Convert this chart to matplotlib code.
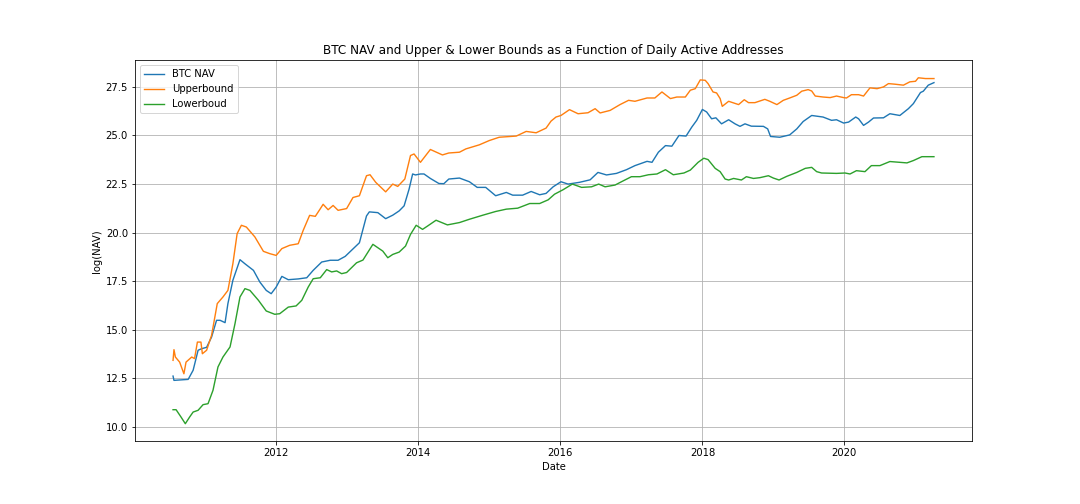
import numpy as np
import pandas as pd
import matplotlib
matplotlib.use("Agg")
import matplotlib.pyplot as plt

# ---- data (decimal years, log NAV values) ----
nav_years = [2010.547, 2010.56, 2010.76, 2010.83, 2010.90, 2010.95, 2011.02, 2011.09, 2011.16, 2011.21,
             2011.28, 2011.32, 2011.39, 2011.49, 2011.56, 2011.68, 2011.77, 2011.86, 2011.93, 2012.0,
             2012.08, 2012.17, 2012.31, 2012.43, 2012.52, 2012.64, 2012.76, 2012.87, 2012.97, 2013.17,
             2013.27, 2013.31, 2013.43, 2013.54, 2013.64, 2013.73, 2013.80, 2013.87, 2013.92, 2013.96,
             2014.03, 2014.08, 2014.17, 2014.29, 2014.36, 2014.43, 2014.58, 2014.72, 2014.83, 2014.95,
             2015.09, 2015.24, 2015.33, 2015.47, 2015.59, 2015.71, 2015.80, 2015.90, 2016.01, 2016.11,
             2016.27, 2016.42, 2016.53, 2016.65, 2016.79, 2016.93, 2017.05, 2017.22, 2017.29, 2017.38,
             2017.48, 2017.57, 2017.67, 2017.77, 2017.85, 2017.92, 2018.0, 2018.06, 2018.13, 2018.19,
             2018.27, 2018.37, 2018.46, 2018.53, 2018.60, 2018.69, 2018.86, 2018.92, 2018.96, 2019.09,
             2019.23, 2019.33, 2019.42, 2019.54, 2019.70, 2019.82, 2019.89, 2019.99, 2020.06, 2020.16,
             2020.20, 2020.27, 2020.34, 2020.41, 2020.55, 2020.64, 2020.78, 2020.90, 2020.97, 2021.07,
             2021.11, 2021.18, 2021.26]
nav_values = [12.62, 12.40, 12.45, 12.92, 13.95, 14.03, 14.10, 14.63, 15.49, 15.49,
              15.37, 16.35, 17.55, 18.61, 18.40, 18.06, 17.46, 17.03, 16.86, 17.20,
              17.75, 17.58, 17.62, 17.68, 18.06, 18.49, 18.58, 18.58, 18.78, 19.48,
              20.86, 21.07, 21.03, 20.72, 20.90, 21.12, 21.38, 22.24, 23.02, 22.97,
              23.02, 23.02, 22.79, 22.53, 22.52, 22.76, 22.81, 22.62, 22.33, 22.33,
              21.90, 22.07, 21.93, 21.93, 22.12, 21.95, 22.02, 22.36, 22.62, 22.50,
              22.59, 22.72, 23.10, 22.97, 23.05, 23.24, 23.45, 23.67, 23.62, 24.14,
              24.48, 24.45, 25.00, 24.97, 25.43, 25.78, 26.34, 26.21, 25.86, 25.91,
              25.60, 25.81, 25.60, 25.47, 25.60, 25.48, 25.47, 25.34, 24.95, 24.91,
              25.03, 25.34, 25.72, 26.03, 25.95, 25.78, 25.81, 25.64, 25.69, 25.95,
              25.86, 25.52, 25.69, 25.90, 25.91, 26.12, 26.03, 26.38, 26.64, 27.21,
              27.28, 27.59, 27.72]

upper_years = [2010.547, 2010.56, 2010.58, 2010.64, 2010.70, 2010.73, 2010.81, 2010.85, 2010.89, 2010.94,
               2010.96, 2011.02, 2011.09, 2011.17, 2011.25, 2011.32, 2011.39, 2011.45, 2011.51, 2011.58,
               2011.70, 2011.82, 2011.91, 2012.0, 2012.08, 2012.19, 2012.31, 2012.38, 2012.47, 2012.55,
               2012.62, 2012.66, 2012.73, 2012.80, 2012.87, 2012.99, 2013.08, 2013.17, 2013.27, 2013.32,
               2013.40, 2013.54, 2013.64, 2013.71, 2013.81, 2013.89, 2013.94, 2014.03, 2014.17, 2014.34,
               2014.43, 2014.58, 2014.67, 2014.86, 2015.0, 2015.14, 2015.38, 2015.52, 2015.66, 2015.80,
               2015.87, 2015.94, 2016.01, 2016.13, 2016.25, 2016.39, 2016.49, 2016.56, 2016.70, 2016.84,
               2016.96, 2017.05, 2017.22, 2017.33, 2017.43, 2017.55, 2017.64, 2017.76, 2017.83, 2017.90,
               2017.97, 2018.04, 2018.08, 2018.15, 2018.20, 2018.25, 2018.28, 2018.37, 2018.51, 2018.59,
               2018.65, 2018.74, 2018.88, 2018.95, 2019.05, 2019.14, 2019.23, 2019.33, 2019.40, 2019.49,
               2019.54, 2019.59, 2019.70, 2019.80, 2019.89, 2019.99, 2020.03, 2020.10, 2020.20, 2020.27,
               2020.36, 2020.46, 2020.55, 2020.62, 2020.71, 2020.83, 2020.92, 2021.0, 2021.04, 2021.14,
               2021.26]
upper_values = [13.43, 13.98, 13.60, 13.34, 12.74, 13.34, 13.60, 13.52, 14.37, 14.37,
                13.77, 13.95, 14.72, 16.35, 16.69, 17.03, 18.40, 19.95, 20.38, 20.29,
                19.78, 19.04, 18.92, 18.83, 19.18, 19.35, 19.43, 20.12, 20.89, 20.84,
                21.23, 21.46, 21.18, 21.40, 21.15, 21.24, 21.81, 21.90, 22.93, 22.98,
                22.59, 22.10, 22.50, 22.38, 22.76, 23.97, 24.05, 23.62, 24.28, 24.00,
                24.10, 24.14, 24.31, 24.52, 24.74, 24.91, 24.97, 25.21, 25.14, 25.38,
                25.74, 25.95, 26.03, 26.33, 26.12, 26.17, 26.38, 26.16, 26.29, 26.59,
                26.81, 26.76, 26.93, 26.93, 27.24, 26.90, 26.98, 26.98, 27.33, 27.41,
                27.86, 27.84, 27.67, 27.24, 27.19, 26.90, 26.50, 26.76, 26.59, 26.84,
                26.69, 26.69, 26.86, 26.76, 26.59, 26.81, 26.93, 27.07, 27.28, 27.36,
                27.29, 27.03, 26.98, 26.95, 27.03, 26.95, 26.93, 27.10, 27.10, 27.03,
                27.45, 27.41, 27.50, 27.67, 27.64, 27.59, 27.76, 27.79, 27.97, 27.93,
                27.93]

lower_years = [2010.547, 2010.59, 2010.66, 2010.72, 2010.78, 2010.83, 2010.90, 2010.97, 2011.04, 2011.11,
               2011.18, 2011.25, 2011.35, 2011.42, 2011.49, 2011.56, 2011.63, 2011.75, 2011.86, 2011.98,
               2012.05, 2012.17, 2012.28, 2012.36, 2012.45, 2012.52, 2012.62, 2012.71, 2012.78, 2012.85,
               2012.92, 2012.99, 2013.13, 2013.22, 2013.36, 2013.50, 2013.57, 2013.64, 2013.73, 2013.82,
               2013.89, 2013.97, 2014.06, 2014.13, 2014.25, 2014.41, 2014.58, 2014.72, 2014.91, 2015.09,
               2015.24, 2015.40, 2015.57, 2015.71, 2015.83, 2015.92, 2016.04, 2016.17, 2016.30, 2016.44,
               2016.54, 2016.63, 2016.77, 2016.86, 2017.0, 2017.12, 2017.24, 2017.36, 2017.48, 2017.59,
               2017.74, 2017.83, 2017.94, 2018.02, 2018.08, 2018.18, 2018.25, 2018.32, 2018.37, 2018.44,
               2018.55, 2018.62, 2018.72, 2018.81, 2018.93, 2019.0, 2019.08, 2019.19, 2019.33, 2019.45,
               2019.54, 2019.61, 2019.68, 2019.89, 2020.01, 2020.08, 2020.17, 2020.29, 2020.38, 2020.50,
               2020.64, 2020.88, 2020.97, 2021.09, 2021.26]
lower_values = [10.89, 10.89, 10.51, 10.17, 10.51, 10.77, 10.86, 11.15, 11.20, 11.89,
                13.09, 13.60, 14.12, 15.32, 16.69, 17.12, 17.03, 16.52, 15.97, 15.80,
                15.83, 16.17, 16.23, 16.52, 17.20, 17.63, 17.68, 18.10, 17.98, 18.03,
                17.89, 17.95, 18.45, 18.59, 19.40, 19.05, 18.71, 18.88, 19.00, 19.31,
                19.91, 20.38, 20.17, 20.34, 20.64, 20.40, 20.52, 20.69, 20.90, 21.09,
                21.21, 21.26, 21.50, 21.50, 21.69, 21.98, 22.21, 22.50, 22.33, 22.36,
                22.50, 22.36, 22.45, 22.62, 22.88, 22.88, 22.98, 23.02, 23.24, 22.98,
                23.07, 23.22, 23.62, 23.83, 23.76, 23.31, 23.14, 22.76, 22.71, 22.79,
                22.71, 22.88, 22.79, 22.83, 22.93, 22.81, 22.71, 22.90, 23.10, 23.31,
                23.36, 23.14, 23.07, 23.05, 23.07, 23.02, 23.19, 23.14, 23.45, 23.45,
                23.66, 23.59, 23.71, 23.91, 23.91]

series_labels = ["BTC NAV", "Upperbound", "Lowerboud"]


def to_dates(years):
    out = []
    for y in years:
        yi = int(np.floor(y))
        start = pd.Timestamp(year=yi, month=1, day=1)
        end = pd.Timestamp(year=yi + 1, month=1, day=1)
        out.append(start + (end - start) * (y - yi))
    return pd.to_datetime(out)


fig = plt.figure(figsize=(15, 7), dpi=72)
ax = fig.add_subplot(111)
fig.subplots_adjust(left=0.125, right=0.9, top=0.88, bottom=0.125)

ax.plot(to_dates(nav_years), nav_values, color="#1f77b4", lw=1.4, label=series_labels[0])
ax.plot(to_dates(upper_years), upper_values, color="#ff7f0e", lw=1.4, label=series_labels[1])
ax.plot(to_dates(lower_years), lower_values, color="#2ca02c", lw=1.4, label=series_labels[2])

ax.set_title("BTC NAV and Upper & Lower Bounds as a Function of Daily Active Addresses")
ax.set_xlabel("Date")
ax.set_ylabel("log(NAV)")
ax.grid(True)
ax.legend(loc="upper left")

fig.savefig("out.png", dpi=72)
